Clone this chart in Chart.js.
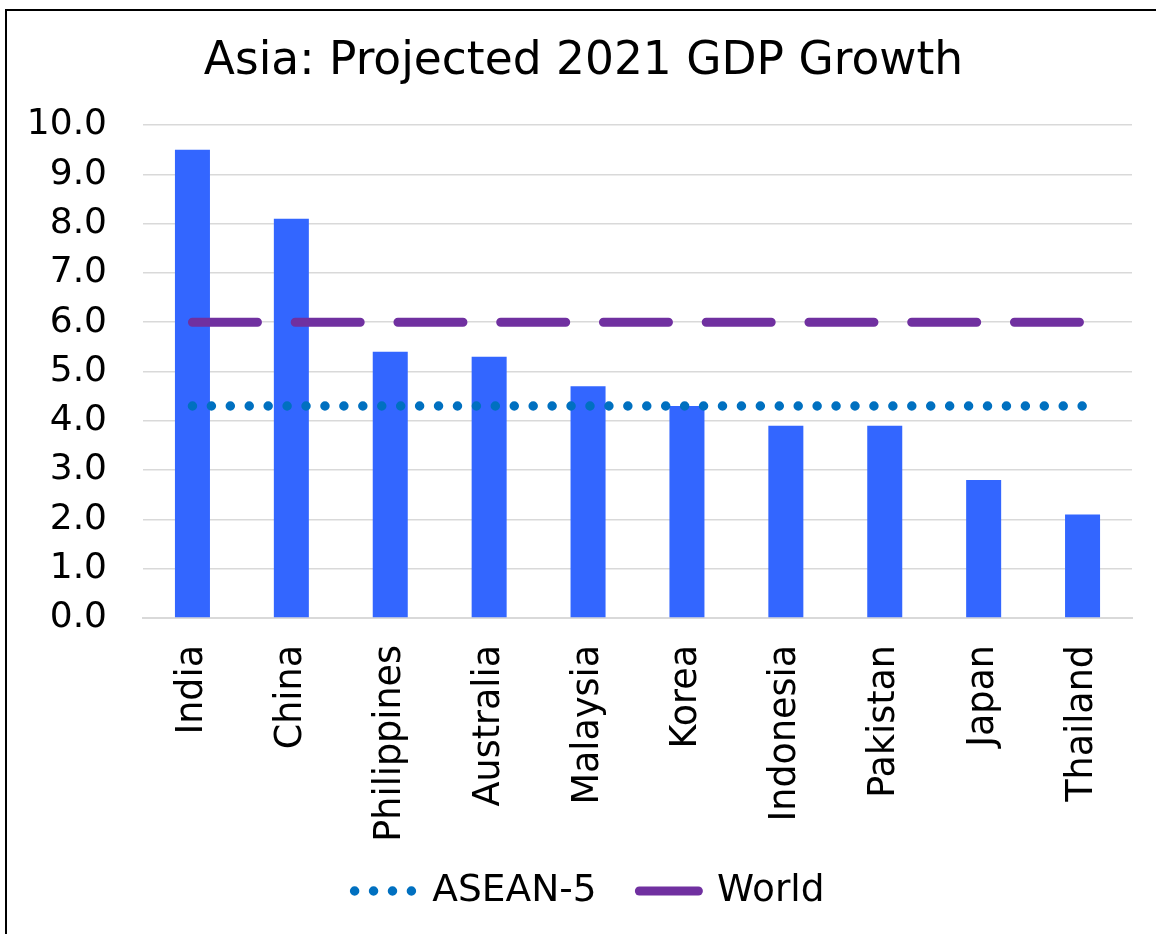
<!DOCTYPE html>
<html>
<head>
<meta charset="utf-8">
<script src="https://cdn.jsdelivr.net/npm/chart.js@4/dist/chart.umd.min.js"></script>
<style>
  html, body { margin: 0; padding: 0; background: #ffffff; overflow: hidden; }
  #wrap { position: absolute; left: 0; top: 0; width: 1156px; height: 934px; }
  #frame { position: absolute; left: 5px; top: 9px; width: 1200px; height: 1000px;
           border-left: 2px solid #000; border-top: 2px solid #000; box-sizing: border-box; }
</style>
</head>
<body>
<div id="frame"></div>
<div id="wrap"><canvas id="c" width="1156" height="934"></canvas></div>
<script>
const categories = ["India", "China", "Philippines", "Australia", "Malaysia", "Korea", "Indonesia", "Pakistan", "Japan", "Thailand"];
const growthValues = [9.5, 8.1, 5.4, 5.3, 4.7, 4.3, 3.9, 3.9, 2.8, 2.1];
const aseanValues = [4.3, 4.3, 4.3, 4.3, 4.3, 4.3, 4.3, 4.3, 4.3, 4.3];
const worldValues = [6.0, 6.0, 6.0, 6.0, 6.0, 6.0, 6.0, 6.0, 6.0, 6.0];
const yTicks = [0, 1, 2, 3, 4, 5, 6, 7, 8, 9, 10];

const FONT = "'DejaVu Sans', Verdana, sans-serif";

// positional nudges for title and legend blocks
const blockShift = {
  id: 'blockShift',
  afterLayout(chart) {
    if (chart.titleBlock) { chart.titleBlock.left += 7.5; chart.titleBlock.right += 7.5; }
    if (chart.legend) {
      chart.legend.left += 13.6; chart.legend.right += 13.6;
      chart.legend.top -= 12.5; chart.legend.bottom -= 12.5;
    }
  }
};

new Chart(document.getElementById('c'), {
  data: {
    labels: categories,
    datasets: [
      {
        type: 'line', label: 'ASEAN-5', data: aseanValues,
        borderColor: '#0070C0', backgroundColor: '#0070C0',
        borderWidth: 9.5, borderDash: [0, 18.93], borderCapStyle: 'round',
        pointRadius: 0, pointHoverRadius: 0, pointStyle: 'line', fill: false
      },
      {
        type: 'line', label: 'World', data: worldValues,
        borderColor: '#7030A0', backgroundColor: '#7030A0',
        borderWidth: 9, borderDash: [65, 37.75], borderCapStyle: 'round',
        pointRadius: 0, pointHoverRadius: 0, pointStyle: 'line', fill: false
      },
      {
        type: 'bar', label: 'GDP Growth', data: growthValues,
        backgroundColor: '#3366FF', borderWidth: 0,
        barPercentage: 0.354, categoryPercentage: 1.0
      }
    ]
  },
  plugins: [blockShift],
  options: {
    responsive: false,
    animation: false,
    layout: { padding: { left: 20, right: 24, top: 0, bottom: 1.75 } },
    plugins: {
      title: {
        display: true,
        text: 'Asia: Projected 2021 GDP Growth',
        color: '#000',
        font: { family: FONT, size: 45.5, weight: 'normal', lineHeight: 1.2 },
        padding: { top: 35, bottom: 35.4 }
      },
      legend: {
        position: 'bottom',
        labels: {
          color: '#000',
          font: { family: FONT, size: 37.5 },
          usePointStyle: true,
          pointStyleWidth: 59,
          padding: 42.75,
          filter: (item) => item.text !== 'GDP Growth',
          generateLabels: (chart) => {
            const items = Chart.defaults.plugins.legend.labels.generateLabels(chart);
            items.forEach((it) => {
              const ds = chart.data.datasets[it.datasetIndex];
              it.lineDash = ds.borderDash || [];
              it.lineCap = ds.borderCapStyle || 'butt';
              it.lineWidth = ds.borderWidth;
              it.strokeStyle = ds.borderColor;
              it.fillStyle = ds.backgroundColor;
              it.pointStyle = ds.type === 'line' ? 'line' : 'rect';
            });
            return items;
          }
        }
      },
      tooltip: { enabled: false }
    },
    scales: {
      x: {
        grid: { display: false, drawTicks: false },
        border: { display: true, color: '#d9d9d9', width: 2 },
        ticks: {
          color: '#000', font: { family: FONT, size: 36.5 },
          minRotation: 90, maxRotation: 90, autoSkip: false, padding: 27
        },
        afterFit: (s) => { s.height = 224; }
      },
      y: {
        min: 0, max: 10,
        afterBuildTicks: (s) => { s.ticks = yTicks.map(v => ({ value: v })); },
        grid: { color: '#d9d9d9', lineWidth: 1.5, drawTicks: false },
        border: { display: false },
        ticks: {
          color: '#000', font: { family: FONT, size: 36 }, padding: 36,
          callback: (v) => Number(v).toFixed(1)
        },
        afterFit: (s) => { s.width = 123; }
      }
    }
  }
});
</script>
</body>
</html>
